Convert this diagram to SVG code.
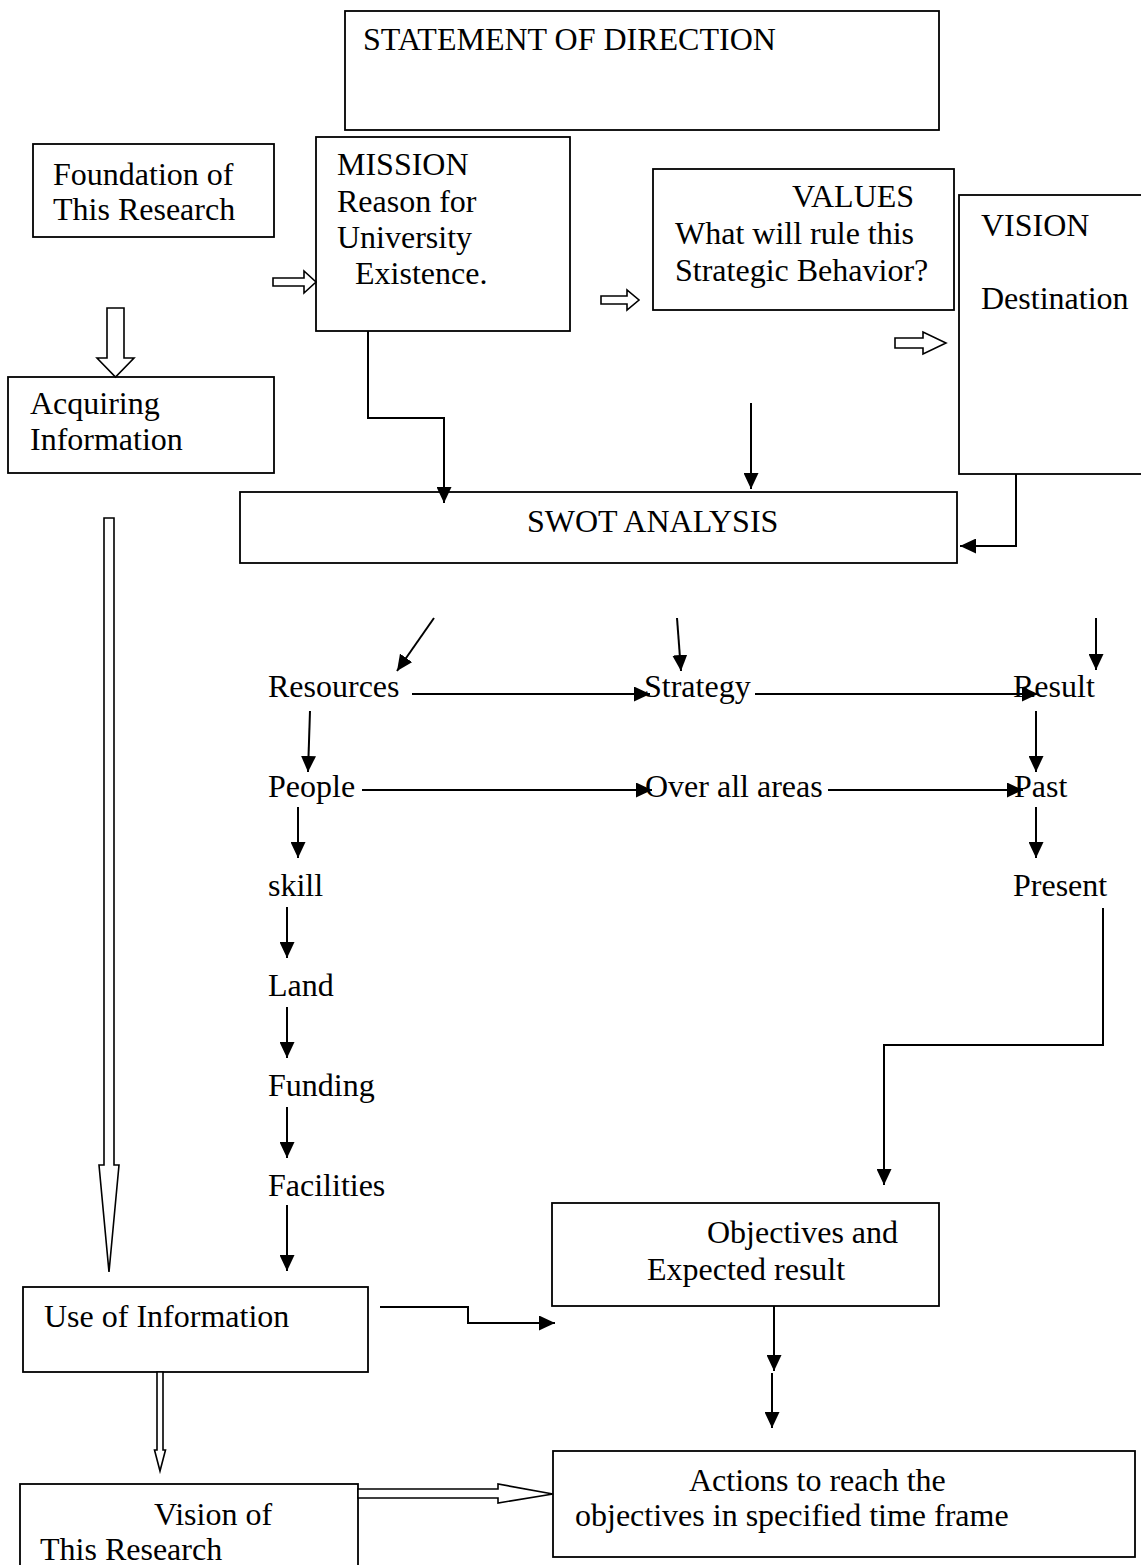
<svg xmlns="http://www.w3.org/2000/svg" width="1141" height="1565" viewBox="0 0 1141 1565">
<style>
  .box{fill:#fff;stroke:#000;stroke-width:1.8}
  .hollow{fill:#fff;stroke:#000;stroke-width:1.6;stroke-linejoin:miter}
  .conn{fill:none;stroke:#000;stroke-width:2}
  text{font-family:"Liberation Serif","Times New Roman",serif;font-size:32px;fill:#000}
</style>
<defs>
  <marker id="ah" markerUnits="userSpaceOnUse" markerWidth="16" markerHeight="15" viewBox="0 0 16 15" refX="16" refY="7.5" orient="auto">
    <path d="M0,0 L16,7.5 L0,15 z" fill="#000"/>
  </marker>
</defs>
<rect width="1141" height="1565" fill="#fff"/>

<g id="statement"><rect class="box" x="345" y="11" width="594" height="119"/><text x="363" y="50">STATEMENT OF DIRECTION</text></g>
<g id="foundation"><rect class="box" x="33" y="144" width="241" height="93"/><text x="53" y="185">Foundation of</text><text x="53" y="220">This Research</text></g>
<g id="mission"><rect class="box" x="316" y="137" width="254" height="194"/><text x="337" y="175">MISSION</text><text x="337" y="212">Reason for</text><text x="337" y="248">University</text><text x="355" y="284">Existence.</text></g>
<g id="values"><rect class="box" x="653" y="169" width="301" height="141"/><text x="792" y="207">VALUES</text><text x="675" y="244">What will rule this</text><text x="675" y="281">Strategic Behavior?</text></g>
<g id="vision"><rect class="box" x="959" y="195" width="200" height="279"/><text x="981" y="236">VISION</text><text x="981" y="309">Destination</text></g>
<g id="acquiring"><rect class="box" x="8" y="377" width="266" height="96"/><text x="30" y="414">Acquiring</text><text x="30" y="450">Information</text></g>
<g id="swot"><rect class="box" x="240" y="492" width="717" height="71"/><text x="527" y="532">SWOT ANALYSIS</text></g>
<g id="resources"><text x="268" y="697">Resources</text></g>
<g id="strategy"><text x="644" y="697">Strategy</text></g>
<g id="result"><text x="1013" y="697">Result</text></g>
<g id="people"><text x="268" y="797">People</text></g>
<g id="overall"><text x="645" y="797">Over all areas</text></g>
<g id="past"><text x="1014" y="797">Past</text></g>
<g id="skill"><text x="268" y="896">skill</text></g>
<g id="present"><text x="1013" y="896">Present</text></g>
<g id="land"><text x="268" y="996">Land</text></g>
<g id="funding"><text x="268" y="1096">Funding</text></g>
<g id="facilities"><text x="268" y="1196">Facilities</text></g>
<g id="use"><rect class="box" x="23" y="1287" width="345" height="85"/><text x="44" y="1327">Use of Information</text></g>
<g id="objectives"><rect class="box" x="552" y="1203" width="387" height="103"/><text x="707" y="1243">Objectives and</text><text x="647" y="1280">Expected result</text></g>
<g id="actions"><rect class="box" x="553" y="1451" width="582" height="106"/><text x="689" y="1491">Actions to reach the</text><text x="575" y="1526">objectives in specified time frame</text></g>
<g id="visionresearch"><rect class="box" x="20" y="1484" width="338" height="90"/><text x="154" y="1525">Vision of</text><text x="40" y="1560">This Research</text></g>

<g id="connectors">
  <polygon class="hollow" points="107,308 124,308 124,358 134,358 115.5,377 97,358 107,358"/>
  <polygon class="hollow" points="273,278 304,278 304,271 316,282 304,293 304,286 273,286"/>
  <polygon class="hollow" points="601,296 627,296 627,290 639,300 627,310 627,304 601,304"/>
  <polygon class="hollow" points="895,338 923,338 923,332 946,343 923,354 923,348 895,348"/>
  <polygon class="hollow" points="104,518 114,518 114,1165 119,1165 109,1272 99,1165 104,1165"/>
  <polygon class="hollow" points="157,1372 163,1372 163,1450 165.5,1450 160,1471 154.5,1450 157,1450"/>
  <polygon class="hollow" points="358,1489 498,1489 498,1484 553,1494 498,1503 498,1498 358,1498"/>

  <path class="conn" marker-end="url(#ah)" d="M368,331 V418 H444 V503"/>
  <path class="conn" marker-end="url(#ah)" d="M751,403 V489"/>
  <path class="conn" marker-end="url(#ah)" d="M1016,474 V546 H960"/>
  <path class="conn" marker-end="url(#ah)" d="M434,618 L397,671"/>
  <path class="conn" marker-end="url(#ah)" d="M677,618 L681,671"/>
  <path class="conn" marker-end="url(#ah)" d="M1096,618 V670"/>
  <path class="conn" marker-end="url(#ah)" d="M412,694 H650"/>
  <path class="conn" marker-end="url(#ah)" d="M755,694 H1038"/>
  <path class="conn" marker-end="url(#ah)" d="M310,711 L308,772"/>
  <path class="conn" marker-end="url(#ah)" d="M1036,711 V772"/>
  <path class="conn" marker-end="url(#ah)" d="M362,790 H652"/>
  <path class="conn" marker-end="url(#ah)" d="M828,790 H1023"/>
  <path class="conn" marker-end="url(#ah)" d="M298,807 V858"/>
  <path class="conn" marker-end="url(#ah)" d="M1036,807 V858"/>
  <path class="conn" marker-end="url(#ah)" d="M287,907 V958"/>
  <path class="conn" marker-end="url(#ah)" d="M287,1007 V1058"/>
  <path class="conn" marker-end="url(#ah)" d="M287,1107 V1158"/>
  <path class="conn" marker-end="url(#ah)" d="M287,1205 V1271"/>
  <path class="conn" marker-end="url(#ah)" d="M1103,908 V1045 H884 V1185"/>
  <path class="conn" marker-end="url(#ah)" d="M380,1307 H468 V1323 H555"/>
  <path class="conn" marker-end="url(#ah)" d="M774,1306 V1371"/>
  <path class="conn" marker-end="url(#ah)" d="M772,1373 V1428"/>
</g>
</svg>
